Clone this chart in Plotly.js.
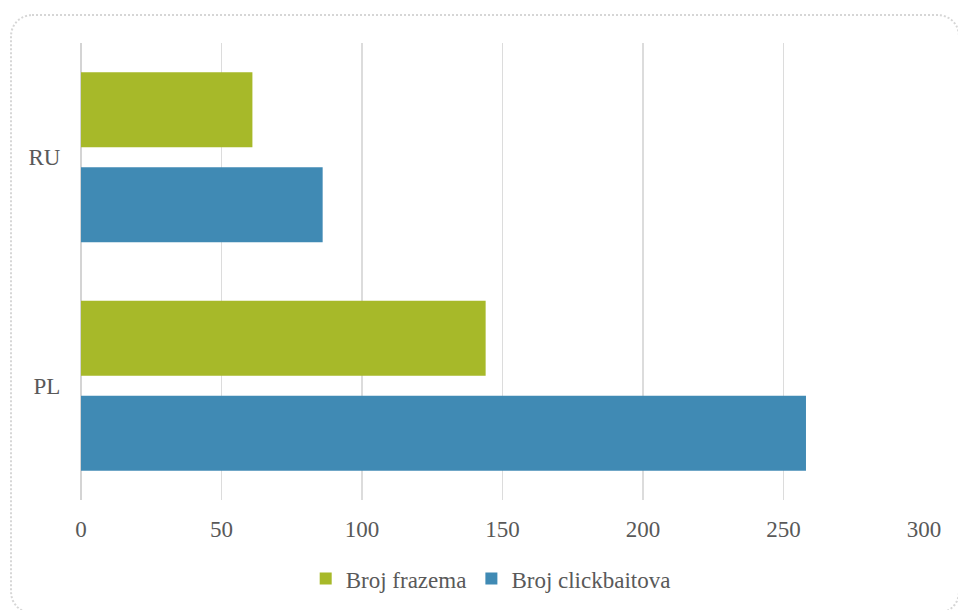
<!DOCTYPE html>
<html>
<head>
<meta charset="utf-8">
<script src="https://cdn.plot.ly/plotly-3.0.1.min.js"></script>
<style>
  html, body { margin: 0; padding: 0; background: #ffffff; }
  #wrap { position: relative; width: 958px; height: 610px; overflow: hidden; }
  #frame { position: absolute; left: 10px; top: 14px; width: 950px; height: 600px;
           border: 2px dotted #d6d6d6; border-radius: 22px; box-sizing: border-box; }
  #chart { position: absolute; left: 0; top: 0; width: 958px; height: 610px; }
</style>
</head>
<body>
<div id="wrap">
  <div id="frame"></div>
  <div id="chart"></div>
</div>
<script>
const categories = ['PL', 'RU'];
const seriesNames = ['Broj frazema', 'Broj clickbaitova'];
const frazemaValues = [144, 61];
const clickbaitValues = [258, 86];
const xTickValues = [0, 50, 100, 150, 200, 250, 300];

const fontFamily = 'Liberation Serif, Times New Roman, serif';
const textColor = '#595959';

const traces = [
  {
    type: 'bar', orientation: 'h',
    name: seriesNames[1],
    y: categories, x: clickbaitValues,
    marker: { color: '#408AB4', line: { width: 0 } },
    hoverinfo: 'x+name'
  },
  {
    type: 'bar', orientation: 'h',
    name: seriesNames[0],
    y: categories, x: frazemaValues,
    marker: { color: '#A7B929', line: { width: 0 } },
    hoverinfo: 'x+name'
  }
];

const layout = {
  width: 958, height: 610,
  margin: { l: 81, r: 34, t: 43, b: 110, autoexpand: false },
  paper_bgcolor: 'rgba(0,0,0,0)',
  plot_bgcolor: 'rgba(0,0,0,0)',
  barmode: 'group',
  bargap: 0.168,
  bargroupgap: 0.21,
  font: { family: fontFamily, color: textColor, size: 23 },
  xaxis: {
    range: [0, 300],
    tickvals: xTickValues,
    ticktext: xTickValues.map(String),
    showgrid: true, gridcolor: '#dcdcdc', gridwidth: 1.5,
    zeroline: true, zerolinecolor: '#d4d4d4', zerolinewidth: 2,
    showline: false,
    ticks: 'outside', ticklen: 8, tickcolor: 'rgba(0,0,0,0)',
    tickfont: { family: fontFamily, color: textColor, size: 23 },
    fixedrange: true, automargin: false
  },
  yaxis: {
    type: 'category',
    categoryorder: 'array', categoryarray: categories,
    range: [-0.5, 1.5],
    showgrid: false, zeroline: false, showline: false,
    ticks: 'outside', ticklen: 15, tickcolor: 'rgba(0,0,0,0)',
    tickfont: { family: fontFamily, color: textColor, size: 23 },
    fixedrange: true, automargin: false
  },
  showlegend: true,
  legend: {
    orientation: 'h',
    traceorder: 'reversed',
    x: 0.486, xanchor: 'center',
    y: -0.172, yanchor: 'middle',
    font: { family: fontFamily, color: textColor, size: 23 },
    bgcolor: 'rgba(0,0,0,0)'
  }
};

Plotly.newPlot('chart', traces, layout, { displayModeBar: false, staticPlot: true });
</script>
</body>
</html>
